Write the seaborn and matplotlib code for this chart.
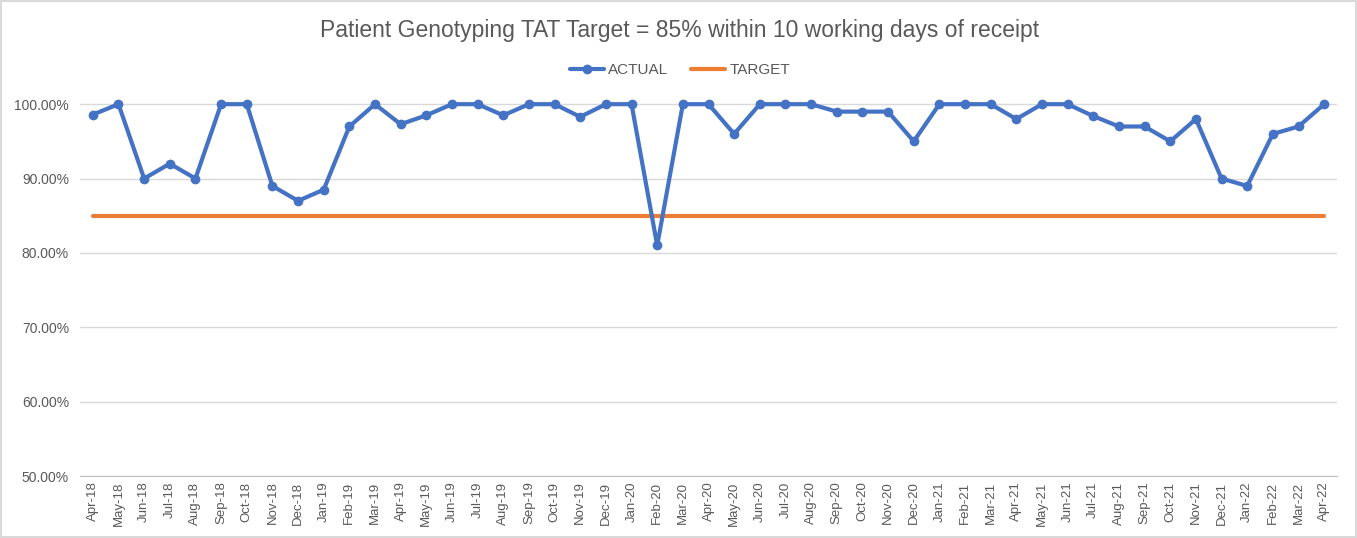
import matplotlib
matplotlib.use("Agg")
import matplotlib.pyplot as plt
import seaborn as sns
import pandas as pd
from matplotlib.ticker import FixedLocator, PercentFormatter

months = [
    "Apr-18", "May-18", "Jun-18", "Jul-18", "Aug-18", "Sep-18", "Oct-18", "Nov-18", "Dec-18",
    "Jan-19", "Feb-19", "Mar-19", "Apr-19", "May-19", "Jun-19", "Jul-19", "Aug-19", "Sep-19",
    "Oct-19", "Nov-19", "Dec-19", "Jan-20", "Feb-20", "Mar-20", "Apr-20", "May-20", "Jun-20",
    "Jul-20", "Aug-20", "Sep-20", "Oct-20", "Nov-20", "Dec-20", "Jan-21", "Feb-21", "Mar-21",
    "Apr-21", "May-21", "Jun-21", "Jul-21", "Aug-21", "Sep-21", "Oct-21", "Nov-21", "Dec-21",
    "Jan-22", "Feb-22", "Mar-22", "Apr-22",
]
actual = [
    98.6, 100, 90, 92, 90, 100, 100, 89, 87,
    88.5, 97, 100, 97.3, 98.5, 100, 100, 98.5, 100,
    100, 98.3, 100, 100, 81, 100, 100, 96, 100,
    100, 100, 99, 99, 99, 95, 100, 100, 100,
    98, 100, 100, 98.4, 97, 97, 95, 98, 90,
    89, 96, 97, 100,
]
target = [85] * len(months)

df = pd.DataFrame({"month": months, "ACTUAL": actual, "TARGET": target})
df["pos"] = range(len(df))

blue = "#4472C4"
orange = "#ED7D31"
grey = "#595959"

sns.set_style("white")
plt.rcParams["font.family"] = ["Liberation Sans", "DejaVu Sans"]

fig = plt.figure(figsize=(13.57, 5.38), dpi=100)
fig.patch.set_edgecolor("#D9D9D9")
fig.patch.set_linewidth(1.5)
ax = fig.add_axes([80 / 1357, 62 / 538, 1257 / 1357, 409 / 538])

sns.lineplot(data=df, x="pos", y="TARGET", ax=ax, color=orange, linewidth=3,
             label="TARGET", zorder=2)
sns.lineplot(data=df, x="pos", y="ACTUAL", ax=ax, color=blue, linewidth=3,
             marker="o", markersize=7, markeredgewidth=0, label="ACTUAL", zorder=3)

ax.set_xlim(-0.5, len(df) - 0.5)
ax.set_ylim(50, 105)
ax.set_yticks(range(50, 101, 10))
ax.yaxis.set_major_formatter(PercentFormatter(decimals=2))
ax.grid(axis="y", color="#D9D9D9", linewidth=1)
ax.set_axisbelow(True)

ax.set_xticks(df["pos"])
ax.set_xticklabels(df["month"], rotation=90, fontsize=9.5, color=grey)
ax.tick_params(axis="x", which="major", length=0, pad=4)
ax.xaxis.set_minor_locator(FixedLocator([i - 0.5 for i in range(len(df) + 1)]))
ax.tick_params(axis="x", which="minor", length=4, color="#BFBFBF", width=1)
ax.tick_params(axis="y", length=0, labelsize=10, labelcolor=grey, pad=8)

for s in ["top", "right", "left"]:
    ax.spines[s].set_visible(False)
ax.spines["bottom"].set_color("#BFBFBF")
ax.set_xlabel("")
ax.set_ylabel("")

handles, labels = ax.get_legend_handles_labels()
order = [labels.index("ACTUAL"), labels.index("TARGET")]
ax.legend([handles[i] for i in order], [labels[i] for i in order],
          loc="center", bbox_to_anchor=(680 / 1357, 1 - 70 / 538),
          bbox_transform=fig.transFigure, ncol=2, frameon=False,
          fontsize=11, labelcolor=grey, handlelength=2.2, columnspacing=1.5,
          handletextpad=0.3)

fig.text(680 / 1357, 1 - 31 / 538,
         "Patient Genotyping TAT Target = 85% within 10 working days of receipt",
         ha="center", va="center", fontsize=16.5, color=grey)

fig.savefig("out.png", dpi=100)
